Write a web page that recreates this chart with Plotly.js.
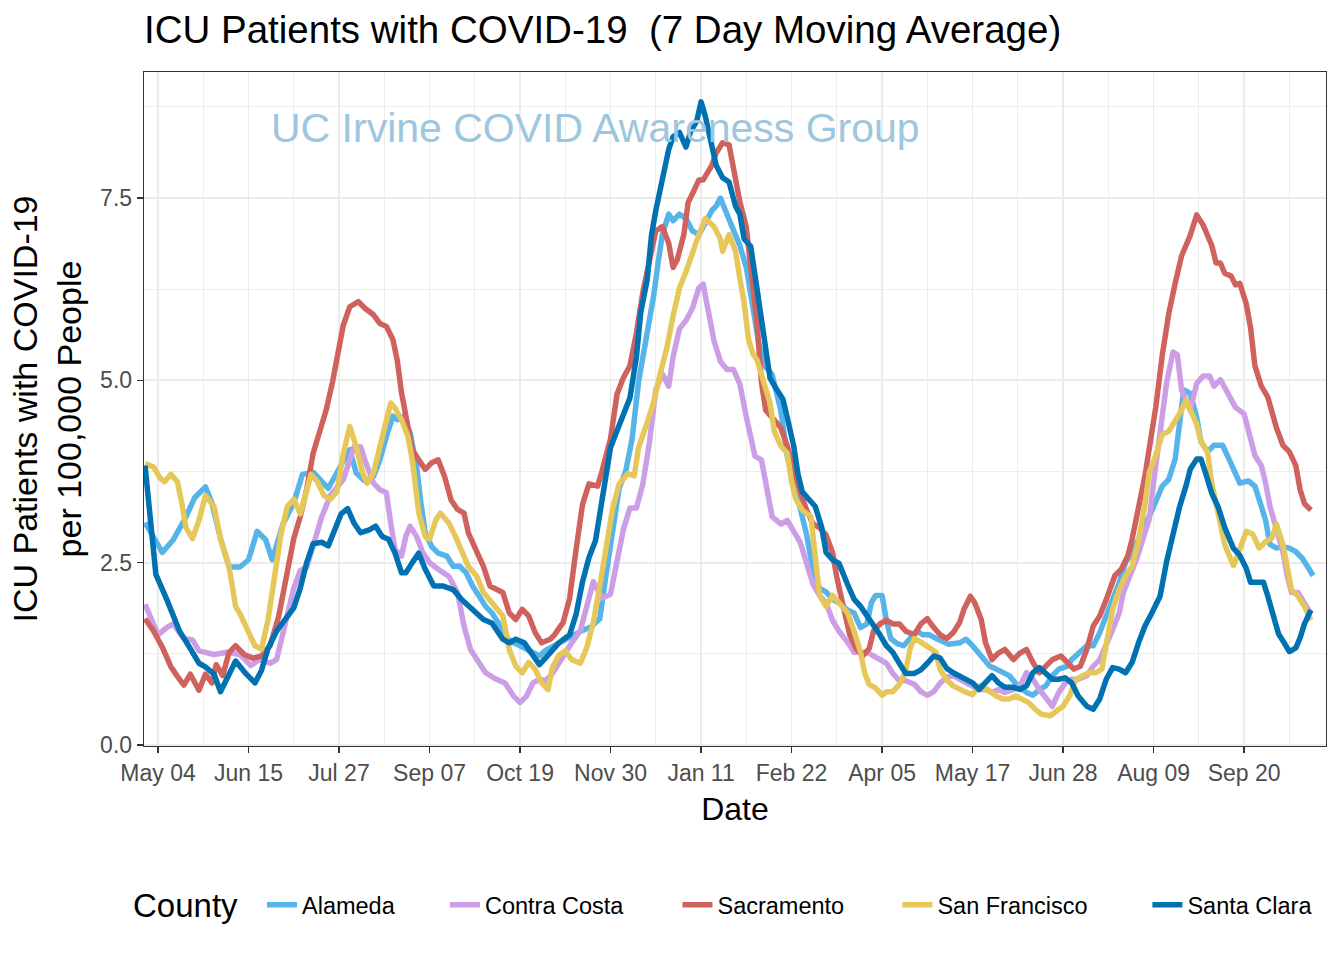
<!DOCTYPE html>
<html>
<head>
<meta charset="utf-8">
<script src="https://cdn.plot.ly/plotly-3.0.1.min.js"></script>
<style>
  html, body { margin: 0; padding: 0; background: #fff; }
  #chart { width: 1344px; height: 960px; }
  .js-line { stroke-linejoin: round; }
</style>
</head>
<body>
<div id="chart"></div>
<script>
// ---- Data: days since 2020-05-04 and 7-day average ICU patients per 100,000 ----
const baseDate = '2020-05-04';

const counties = ['Alameda', 'Contra Costa', 'Sacramento', 'San Francisco', 'Santa Clara'];
const countyColors = ['#56B4E9', '#CC9EE6', '#D0625E', '#E6C85A', '#0072B2'];

const alamedaDay = [-6,2,7,13,17,22,25,29,33,38,42,46,50,53,58,63,67,72,79,84,89,92,96,100,103,106,109,111,114,117,120,122,124,127,130,134,137,140,143,146,149,152,155,158,161,165,168,171,174,177,180,186,192,197,201,205,208,211,214,217,220,223,227,230,232,234,237,239,242,245,248,251,254,257,259,261,264,267,270,273,276,279,282,285,289,292,295,298,301,304,307,310,313,316,320,323,326,329,331,333,336,338,340,343,346,349,352,355,358,361,364,367,372,375,378,382,386,389,392,395,399,403,406,409,412,415,418,422,424,427,431,434,437,440,443,446,449,452,455,458,462,466,469,472,474,476,479,482,484,487,490,494,497,500,502,506,509,512,514,516,519,522,525,528,531,534,536];
const alamedaICU = [3.05,2.64,2.81,3.13,3.39,3.54,3.32,2.83,2.44,2.44,2.54,2.93,2.81,2.54,3.03,3.32,3.71,3.74,3.52,3.8,4.05,3.73,3.62,3.68,3.91,4.23,4.51,4.46,4.51,4.28,3.82,3.32,2.91,2.72,2.63,2.59,2.45,2.45,2.36,2.18,2.04,1.90,1.81,1.67,1.49,1.40,1.36,1.31,1.26,1.22,1.30,1.40,1.48,1.57,1.62,1.73,2.35,2.96,3.52,3.75,4.20,4.98,5.65,6.16,6.60,7.0,7.28,7.19,7.28,7.22,7.05,7.0,7.16,7.33,7.39,7.5,7.28,7.05,6.85,6.55,5.96,5.47,5.18,5.08,4.59,3.96,3.61,3.27,2.88,2.39,2.15,2.10,2.0,1.95,1.85,1.81,1.61,1.66,1.95,2.05,2.05,1.71,1.46,1.39,1.36,1.46,1.56,1.51,1.51,1.46,1.42,1.38,1.40,1.45,1.36,1.22,1.08,1.04,0.99,0.95,0.81,0.72,0.68,0.76,0.81,0.95,1.04,1.08,1.17,1.26,1.36,1.36,1.54,1.77,1.99,2.22,2.50,2.64,2.82,3.0,3.27,3.55,3.64,3.92,4.40,4.87,4.82,4.49,4.16,4.02,4.11,4.11,3.92,3.74,3.59,3.62,3.55,3.27,3.08,2.75,2.70,2.72,2.70,2.65,2.56,2.42,2.32];

const contraCostaDay = [-6,-3,0,4,7,12,16,19,26,32,38,43,47,52,55,57,60,63,66,69,72,76,80,84,86,91,94,96,100,103,106,108,110,113,115,117,120,123,126,130,135,139,142,145,149,152,157,161,165,168,171,174,177,180,183,186,189,192,196,199,202,206,210,213,216,219,222,225,228,231,234,237,239,242,245,248,251,253,255,258,261,264,267,270,273,275,277,280,282,285,289,292,295,298,301,304,307,310,313,316,320,323,326,329,332,335,338,341,344,347,351,354,357,360,363,366,369,372,375,378,381,384,387,390,393,397,400,403,406,409,412,415,418,421,424,427,431,434,437,440,443,446,448,451,454,457,460,462,465,468,471,473,475,479,482,485,488,490,493,497,500,504,506,509,512,514,516,519,522,524,526,529,532,535];
const contraCostaICU = [1.93,1.71,1.51,1.61,1.66,1.46,1.44,1.29,1.24,1.27,1.24,1.09,1.17,1.12,1.17,1.41,1.76,2.15,2.39,2.44,2.73,3.13,3.42,3.55,3.64,4.09,4.09,3.91,3.59,3.50,3.46,3.04,2.68,2.59,2.86,3.0,2.86,2.63,2.5,2.41,2.31,2.09,1.63,1.31,1.13,0.99,0.90,0.85,0.67,0.58,0.67,0.85,0.9,0.88,0.98,1.12,1.29,1.40,1.57,1.90,2.24,2.01,2.07,2.52,2.96,3.25,3.25,3.58,4.14,4.87,5.09,4.92,5.32,5.71,5.82,5.99,6.27,6.32,5.99,5.54,5.26,5.15,5.15,4.95,4.5,4.20,3.96,3.91,3.61,3.13,3.03,3.08,2.93,2.78,2.49,2.20,2.05,1.95,1.71,1.56,1.41,1.27,1.27,1.27,1.22,1.17,1.12,0.98,0.88,0.88,0.83,0.73,0.68,0.73,0.85,0.93,0.95,0.90,0.85,0.81,0.76,0.76,0.72,0.76,0.72,0.76,0.81,0.99,0.90,0.76,0.63,0.53,0.72,0.85,0.90,0.90,0.95,1.08,1.17,1.36,1.58,1.81,2.09,2.32,2.54,2.82,3.1,3.6,4.30,4.96,5.39,5.35,4.87,4.59,4.96,5.06,5.06,4.92,5.01,4.77,4.63,4.54,4.30,3.97,3.83,3.59,3.27,2.98,2.65,2.32,2.09,2.09,1.94,1.80];

const sacramentoDay = [-6,-2,2,6,9,12,15,19,22,25,27,30,33,36,40,44,48,52,56,60,63,66,69,72,75,78,81,83,86,89,93,96,100,103,106,109,111,113,116,118,121,124,127,130,133,136,139,142,144,148,151,154,157,160,163,166,169,172,175,178,182,184,188,191,194,197,200,204,206,210,213,216,219,222,225,228,231,234,237,239,241,244,246,248,251,253,255,257,259,262,265,267,270,273,275,278,280,282,285,289,292,295,298,301,304,307,310,313,315,318,321,324,327,330,332,335,338,341,344,347,351,354,357,360,363,366,369,372,374,377,379,382,384,387,390,393,397,400,403,406,409,412,415,419,422,425,428,431,434,437,440,442,444,447,450,452,455,458,460,463,466,469,472,475,479,482,485,489,491,493,495,498,500,502,505,507,509,512,515,519,522,525,528,530,532,535];
const sacramentoICU = [1.73,1.56,1.34,1.07,0.94,0.82,0.97,0.75,0.97,0.85,1.1,0.95,1.27,1.36,1.24,1.19,1.22,1.36,1.76,2.39,2.83,3.13,3.51,4.0,4.30,4.59,4.98,5.32,5.76,6.01,6.08,5.99,5.9,5.78,5.74,5.56,5.28,4.83,4.37,4.05,3.91,3.78,3.87,3.91,3.68,3.36,3.23,3.18,2.91,2.63,2.45,2.18,2.13,2.09,1.81,1.72,1.86,1.77,1.54,1.40,1.45,1.51,1.68,2.01,2.68,3.30,3.58,3.55,3.75,4.20,4.81,5.04,5.20,5.65,6.21,6.66,7.05,7.11,6.88,6.55,6.66,7.0,7.44,7.56,7.75,7.75,7.84,7.95,8.12,8.26,8.23,7.89,7.45,7.1,6.55,5.77,4.98,4.59,4.49,4.35,4.10,3.76,3.47,3.22,3.03,2.98,2.88,2.64,2.30,1.90,1.51,1.32,1.22,1.32,1.56,1.66,1.71,1.66,1.66,1.56,1.51,1.66,1.73,1.61,1.51,1.46,1.54,1.68,1.86,2.04,1.95,1.72,1.40,1.17,1.26,1.31,1.17,1.26,1.31,1.13,0.99,1.08,1.17,1.22,1.13,1.04,1.08,1.31,1.63,1.77,1.99,2.18,2.32,2.41,2.59,2.82,3.23,3.69,4.07,4.63,5.34,5.91,6.33,6.71,6.99,7.27,7.13,6.85,6.61,6.61,6.47,6.43,6.31,6.33,6.05,5.72,5.20,4.92,4.77,4.35,4.11,4.02,3.83,3.50,3.31,3.22];

const sanFranciscoDay = [-6,-2,1,3,6,9,11,13,16,19,22,26,29,33,36,38,41,45,48,51,54,57,60,63,66,69,71,74,77,80,83,86,89,92,95,97,100,103,106,108,110,113,116,118,121,124,126,129,131,135,138,141,144,148,151,155,160,163,166,169,172,175,178,181,183,186,189,192,196,199,202,205,208,211,214,218,221,223,227,230,233,236,239,242,245,248,251,254,258,261,262,265,268,270,272,274,276,278,281,284,286,289,292,294,296,299,303,305,307,310,313,316,320,323,326,328,330,333,336,338,341,344,347,349,351,354,358,361,363,366,369,372,375,378,381,385,389,392,395,398,401,404,407,410,414,417,420,423,426,429,432,435,438,441,443,446,449,452,455,458,460,463,466,469,472,475,477,479,482,484,487,489,492,495,499,501,505,508,511,514,517,519,522,524,526,529,532,535];
const sanFranciscoICU = [3.86,3.81,3.66,3.61,3.71,3.61,3.32,2.98,2.83,3.08,3.42,3.27,2.83,2.44,1.90,1.80,1.61,1.36,1.31,1.71,2.29,2.88,3.27,3.37,3.17,3.51,3.71,3.61,3.42,3.37,3.47,4.0,4.37,4.09,3.73,3.59,3.73,4.09,4.42,4.69,4.62,4.46,4.23,3.91,3.18,2.86,2.82,3.09,3.18,3.04,2.86,2.63,2.45,2.31,2.09,1.95,1.77,1.31,1.08,0.99,1.13,1.04,0.85,0.76,1.06,1.23,1.29,1.17,1.12,1.34,1.68,2.18,2.74,3.25,3.58,3.72,3.69,4.08,4.42,4.70,5.09,5.43,5.88,6.27,6.49,6.77,7.0,7.22,7.11,6.94,6.77,7.0,6.77,6.4,6.06,5.57,5.37,5.28,4.98,4.69,4.30,4.10,4.0,3.61,3.37,3.22,3.13,2.64,2.05,1.90,2.05,1.95,1.81,1.56,1.27,0.98,0.83,0.78,0.68,0.73,0.73,0.83,1.02,1.32,1.46,1.41,1.32,1.27,1.03,0.89,0.81,0.76,0.72,0.69,0.81,0.76,0.67,0.63,0.63,0.67,0.63,0.58,0.49,0.42,0.40,0.47,0.53,0.67,0.90,0.95,0.99,0.99,1.04,1.54,1.86,2.13,2.32,2.45,2.8,3.3,3.74,3.97,4.26,4.30,4.44,4.59,4.73,4.59,4.40,4.16,4.02,3.59,3.13,2.75,2.46,2.60,2.93,2.89,2.70,2.79,2.84,3.03,2.75,2.42,2.13,2.04,1.90,1.71];

const santaClaraDay = [-6,-1,4,7,10,15,19,22,26,29,33,36,41,45,48,51,55,60,63,66,69,72,76,79,82,85,88,91,94,98,101,104,107,110,113,115,118,121,124,128,132,137,141,146,151,155,160,163,166,170,173,177,181,186,191,194,197,200,203,206,210,213,216,219,222,224,227,229,231,234,237,239,242,245,247,250,252,254,257,259,262,265,268,270,272,275,278,281,284,287,290,292,295,297,299,302,305,308,310,313,316,320,323,326,329,332,335,338,341,344,347,351,354,357,360,363,366,369,372,375,378,381,384,387,390,393,397,400,403,406,409,412,415,418,421,424,427,431,434,437,440,443,446,449,452,455,458,461,465,468,471,474,477,479,482,484,486,489,492,495,499,502,505,507,510,513,515,518,520,523,525,528,530,532,535];
const santaClaraICU = [3.83,2.34,2.0,1.76,1.56,1.32,1.12,1.07,0.97,0.73,0.97,1.15,0.97,0.85,1.02,1.32,1.56,1.76,1.88,2.15,2.5,2.76,2.78,2.73,2.93,3.17,3.24,3.04,2.91,2.95,3.0,2.86,2.82,2.63,2.36,2.36,2.5,2.63,2.41,2.18,2.18,2.13,1.99,1.86,1.72,1.67,1.45,1.40,1.45,1.40,1.26,1.10,1.23,1.40,1.51,1.79,2.24,2.57,2.80,3.36,4.08,4.31,4.53,4.76,5.32,5.93,6.38,6.99,7.33,7.78,8.17,8.34,8.40,8.20,8.40,8.56,8.82,8.62,8.23,7.95,7.78,7.72,7.39,7.28,6.94,6.84,6.25,5.67,5.03,4.88,4.74,4.49,4.10,3.71,3.47,3.37,3.27,2.98,2.64,2.54,2.49,2.20,2.0,1.90,1.78,1.66,1.51,1.36,1.27,1.12,0.98,0.98,1.03,1.12,1.22,1.19,1.05,0.99,0.95,0.90,0.85,0.76,0.85,0.95,0.85,0.79,0.79,0.76,0.81,0.99,1.06,0.99,0.90,0.90,0.92,0.85,0.67,0.53,0.49,0.63,0.90,1.06,1.04,0.99,1.13,1.40,1.63,1.80,2.04,2.51,2.93,3.26,3.55,3.78,3.92,3.92,3.74,3.45,3.26,2.98,2.70,2.60,2.42,2.23,2.23,2.23,2.04,1.75,1.52,1.38,1.28,1.33,1.47,1.66,1.85];

const seriesDays = [alamedaDay, contraCostaDay, sacramentoDay, sanFranciscoDay, santaClaraDay];
const seriesICU  = [alamedaICU, contraCostaICU, sacramentoICU, sanFranciscoICU, santaClaraICU];

const tickDates  = ['2020-05-04','2020-06-15','2020-07-27','2020-09-07','2020-10-19','2020-11-30','2021-01-11','2021-02-22','2021-04-05','2021-05-17','2021-06-28','2021-08-09','2021-09-20'];
const tickLabels = ['May 04','Jun 15','Jul 27','Sep 07','Oct 19','Nov 30','Jan 11','Feb 22','Apr 05','May 17','Jun 28','Aug 09','Sep 20'];
const minorDates = ['2020-05-25','2020-07-06','2020-08-17','2020-09-28','2020-11-09','2020-12-21','2021-02-01','2021-03-15','2021-04-26','2021-06-07','2021-07-19','2021-08-30','2021-10-11'];
const yTicks = [0, 2.5, 5, 7.5];
const yTickLabels = ['0.0', '2.5', '5.0', '7.5'];
const yMinor = [1.25, 3.75, 6.25, 8.75];

// ---- Build traces ----
const base = Date.UTC(2020, 4, 4);
function toDate(d) { return new Date(base + d * 86400000).toISOString().slice(0, 10); }

const FONT = 'Liberation Sans, Arial, Helvetica, sans-serif';
const legendIds = ['legend', 'legend2', 'legend3', 'legend4', 'legend5'];
// left edge (paper fraction) of each single-entry legend box
const legendX = [0.0922, 0.2470, 0.4437, 0.6298, 0.8413].map(v => v + 9 / 1182);

const traces = counties.map((name, i) => ({
  type: 'scatter',
  mode: 'lines',
  name: name,
  legend: legendIds[i],
  x: seriesDays[i].map(toDate),
  y: seriesICU[i],
  line: { color: countyColors[i], width: 5.5 },
  hoverinfo: 'skip'
}));

const layout = {
  width: 1344,
  height: 960,
  margin: { l: 144, r: 18, t: 72, b: 214 },
  paper_bgcolor: '#ffffff',
  plot_bgcolor: '#ffffff',
  font: { family: FONT, color: '#000000' },
  showlegend: true,
  title: {
    text: 'ICU Patients with COVID-19\u00a0 (7 Day Moving Average)',
    xref: 'paper', x: 0, xanchor: 'left',
    yref: 'container', y: 1 - 30 / 960, yanchor: 'middle',
    font: { size: 38.5, color: '#000000', family: FONT }
  },
  xaxis: {
    type: 'date',
    range: ['2020-04-27 12:00', '2021-10-28'],
    tickmode: 'array',
    tickvals: tickDates,
    ticktext: tickLabels,
    ticks: 'outside', ticklen: 6, tickwidth: 1.5, tickcolor: '#333333',
    tickfont: { size: 23, color: '#4D4D4D', family: FONT },
    showline: true, mirror: true, linecolor: '#333333', linewidth: 1.3,
    showgrid: true, gridcolor: '#EBEBEB', gridwidth: 1.8,
    minor: { tickmode: 'array', tickvals: minorDates, showgrid: true, gridcolor: '#EBEBEB', gridwidth: 0.9, ticks: '' },
    zeroline: false,
    title: { text: 'Date', font: { size: 32, color: '#000000', family: FONT }, standoff: 12 }
  },
  yaxis: {
    range: [-0.015, 9.23],
    tickmode: 'array',
    tickvals: yTicks,
    ticktext: yTickLabels,
    ticks: 'outside', ticklen: 6, tickwidth: 1.5, tickcolor: '#333333',
    tickfont: { size: 23, color: '#4D4D4D', family: FONT },
    showline: true, mirror: true, linecolor: '#333333', linewidth: 1.3,
    showgrid: true, gridcolor: '#EBEBEB', gridwidth: 1.8,
    minor: { tickmode: 'array', tickvals: yMinor, showgrid: true, gridcolor: '#EBEBEB', gridwidth: 0.9, ticks: '' },
    zeroline: false,
    title: { text: 'ICU Patients with COVID-19<br>per 100,000 People', font: { size: 34, color: '#000000', family: FONT }, standoff: 8 }
  },
  annotations: [
    {
      text: 'UC Irvine COVID Awareness Group',
      xref: 'paper', yref: 'paper',
      x: 0.3816, y: 0.917,
      xanchor: 'center', yanchor: 'middle',
      showarrow: false,
      font: { size: 41, color: '#9DC6DF', family: FONT }
    },
    {
      text: 'County',
      xref: 'paper', yref: 'paper',
      x: (131 - 144) / 1182, y: (746 - 905) / 674,
      xanchor: 'left', yanchor: 'middle',
      showarrow: false,
      font: { size: 33, color: '#000000', family: FONT }
    }
  ]
};

legendIds.forEach((id, i) => {
  layout[id] = {
    orientation: 'h',
    x: legendX[i], xanchor: 'left',
    y: (746 - 905) / 674, yanchor: 'middle',
    font: { size: 23.5, color: '#000000', family: FONT },
    itemwidth: 30,
    bgcolor: 'rgba(0,0,0,0)'
  };
});

Plotly.newPlot('chart', traces, layout, { displayModeBar: false, staticPlot: true });
</script>
</body>
</html>
